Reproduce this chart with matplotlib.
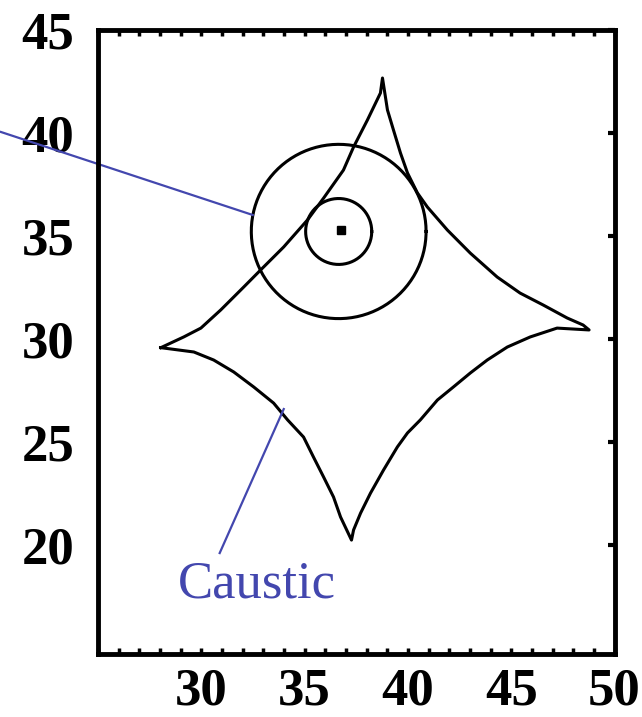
import matplotlib
matplotlib.use('Agg')
import matplotlib.pyplot as plt
from matplotlib.ticker import MultipleLocator
import numpy as np

# caustic outline (closed): left cusp -> top cusp -> right cusp -> bottom cusp -> back
caustic_x = [28.04, 29.15, 29.98, 30.94, 32.05, 32.87, 33.99, 35.14, 35.92, 36.88, 37.37, 38.04, 38.67, 38.77,
             39.01, 39.30, 39.64, 39.98, 40.46, 40.94, 41.91, 43.02, 44.32, 45.43, 46.55, 47.71, 48.48, 48.77,
             47.22, 45.92, 44.81, 43.84, 43.02, 42.20, 41.43, 40.60, 39.98, 39.49, 38.82, 38.19, 37.71, 37.37, 37.27,
             36.74, 36.40, 35.92, 35.43, 34.95, 34.18, 33.50, 32.54, 31.57, 30.60, 29.64, 28.04]
caustic_y = [29.58, 30.10, 30.53, 31.41, 32.52, 33.35, 34.47, 35.78, 36.84, 38.20, 39.32, 40.63, 41.94, 42.67,
             41.12, 40.15, 39.03, 38.06, 37.09, 36.41, 35.29, 34.17, 33.01, 32.23, 31.65, 31.02, 30.68, 30.44,
             30.53, 30.10, 29.61, 28.98, 28.35, 27.67, 27.04, 26.07, 25.44, 24.76, 23.64, 22.52, 21.55, 20.73, 20.24,
             21.36, 22.33, 23.30, 24.27, 25.24, 26.07, 26.89, 27.67, 28.40, 28.98, 29.37, 29.58]

# source circles
center = (36.65, 35.22)
radii = [4.23, 1.6]

# annotation lines
pointer1_x = [20.3, 32.49]
pointer1_y = [40.05, 36.02]
pointer2_x = [33.99, 30.89]
pointer2_y = [26.6, 19.61]

blue = '#4347ae'

fig = plt.figure(figsize=(6.42, 7.17), dpi=100)
ax = fig.add_axes([98/642, 1 - 654/717, 516.5/642, 624/717])

ax.plot(caustic_x, caustic_y, color='black', lw=2.2)

t = np.linspace(0, 2*np.pi, 200)
for r in radii:
    ax.plot(center[0] + r*np.cos(t), center[1] + r*np.sin(t), color='black', lw=2.2)
ax.plot([center[0] + 0.1], [center[1] + 0.05], marker='s', color='black', ms=6)

# blue pointers (the first one runs out of the frame)
ax.plot(pointer1_x, pointer1_y, color=blue, lw=1.6, clip_on=False)
ax.plot(pointer2_x, pointer2_y, color=blue, lw=1.6, clip_on=False)
ax.text(28.86, 17.43, 'Caustic', color=blue, fontsize=38, family='Liberation Serif', va='baseline', ha='left')

ax.set_xlim(25, 50)
ax.set_ylim(14.71, 45)

ax.xaxis.set_major_locator(MultipleLocator(5))
ax.xaxis.set_minor_locator(MultipleLocator(1))
ax.yaxis.set_major_locator(MultipleLocator(5))
ax.set_xticks([30, 35, 40, 45, 50])
ax.set_yticks([20, 25, 30, 35, 40, 45])

ax.tick_params(axis='x', which='both', direction='in', bottom=True, top=True, length=4, width=2.5, pad=10)
ax.tick_params(axis='y', which='major', direction='in', left=False, right=True, length=5, width=3, pad=17)
ax.tick_params(axis='y', which='minor', left=False, right=False)

for lab in ax.get_xticklabels() + ax.get_yticklabels():
    lab.set_family('Liberation Serif')
    lab.set_fontweight('bold')
    lab.set_fontsize(38)

for s in ax.spines.values():
    s.set_linewidth(3.5)

plt.savefig('out.png', dpi=100)
